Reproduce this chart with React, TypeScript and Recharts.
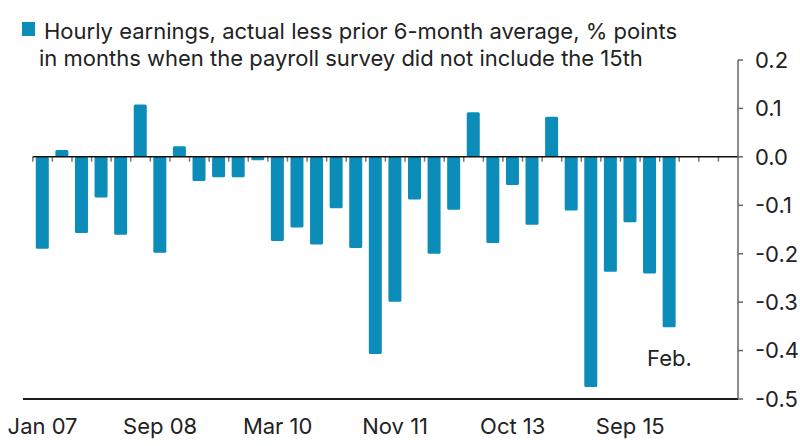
import { Bar, BarChart, ReferenceDot, ReferenceLine, XAxis, YAxis } from "recharts"

// hourly earnings, actual less prior 6-month average (% points), one bar per month
const values = [
  -0.19, 0.014, -0.157, -0.084, -0.161, 0.108, -0.198, 0.022, -0.05, -0.042, -0.042,
  -0.007, -0.174, -0.146, -0.181, -0.106, -0.188, -0.407, -0.299, -0.088, -0.2, -0.109,
  0.092, -0.178, -0.058, -0.14, 0.083, -0.111, -0.475, -0.237, -0.135, -0.241, -0.352,
]
const tickLabels = ["Jan 07", "Sep 08", "Mar 10", "Nov 11", "Oct 13", "Sep 15"]
const tickSlots = [0, 6, 12, 18, 24, 30]
const yTicks = [0.2, 0.1, 0, -0.1, -0.2, -0.3, -0.4, -0.5]
const slotCount = 36

const data = values.map((v, i) => ({ x: i + 0.5, v }))
const zeroTicks = Array.from({ length: slotCount }, (_, i) => i)

const BLUE = "#0b8cb9"
const INK = "#222222"

export default function App() {
  return (
    <div
      style={{
        position: "absolute",
        left: 0,
        top: 0,
        width: 800,
        height: 446,
        background: "#fff",
        fontFamily: "Inter, 'Open Sans', Arial, sans-serif",
        color: INK,
      }}
    >
      <div style={{ position: "absolute", left: 22, top: 22, width: 13, height: 14, background: BLUE }} />
      <div style={{ position: "absolute", left: 39, top: 18, fontSize: 22, lineHeight: "27px", width: 760, whiteSpace: "nowrap" }}>
        <div style={{ paddingLeft: 5 }}>Hourly earnings, actual less prior 6-month average, % points</div>
        <div>in months when the payroll survey did not include the 15th</div>
      </div>
      <BarChart width={800} height={446} data={data} margin={{ top: 60, right: 0, left: 23, bottom: 0 }}>
        <XAxis
          type="number"
          dataKey="x"
          domain={[-0.5, slotCount]}
          ticks={tickSlots.map((i) => i + 0.5)}
          interval={0}
          tickFormatter={(x) => tickLabels[tickSlots.indexOf(x - 0.5)] ?? ""}
          axisLine={{ stroke: "#1b1b1b", strokeWidth: 2 }}
          tickLine={false}
          tickSize={0}
          tickMargin={19}
          height={47}
          tick={{ fontSize: 22, fill: INK }}
        />
        <YAxis
          orientation="right"
          domain={[-0.5, 0.2]}
          ticks={yTicks}
          interval={0}
          tickFormatter={(v) => v.toFixed(1)}
          width={62}
          tickSize={5}
          tickMargin={12}
          axisLine={{ stroke: "#666", strokeWidth: 1.5 }}
          tickLine={{ stroke: "#666", strokeWidth: 1.5 }}
          tick={{ fontSize: 22, fill: INK }}
        />
        <Bar dataKey="v" fill={BLUE} barSize={13} radius={1.5} isAnimationActive={false} />
        {zeroTicks.map((i) => (
          <ReferenceLine
            key={i}
            segment={[
              { x: i, y: 0 },
              { x: i, y: -0.01 },
            ]}
            stroke="#777"
            strokeWidth={1.5}
          />
        ))}
        <ReferenceLine
          segment={[
            { x: 0, y: 0 },
            { x: slotCount, y: 0 },
          ]}
          stroke="#111"
          strokeWidth={1.5}
        />
        <ReferenceDot
          x={32.5}
          y={-0.415}
          r={0}
          stroke="none"
          label={{ value: "Feb.", position: "center", fontSize: 22, fill: INK }}
        />
      </BarChart>
    </div>
  )
}
